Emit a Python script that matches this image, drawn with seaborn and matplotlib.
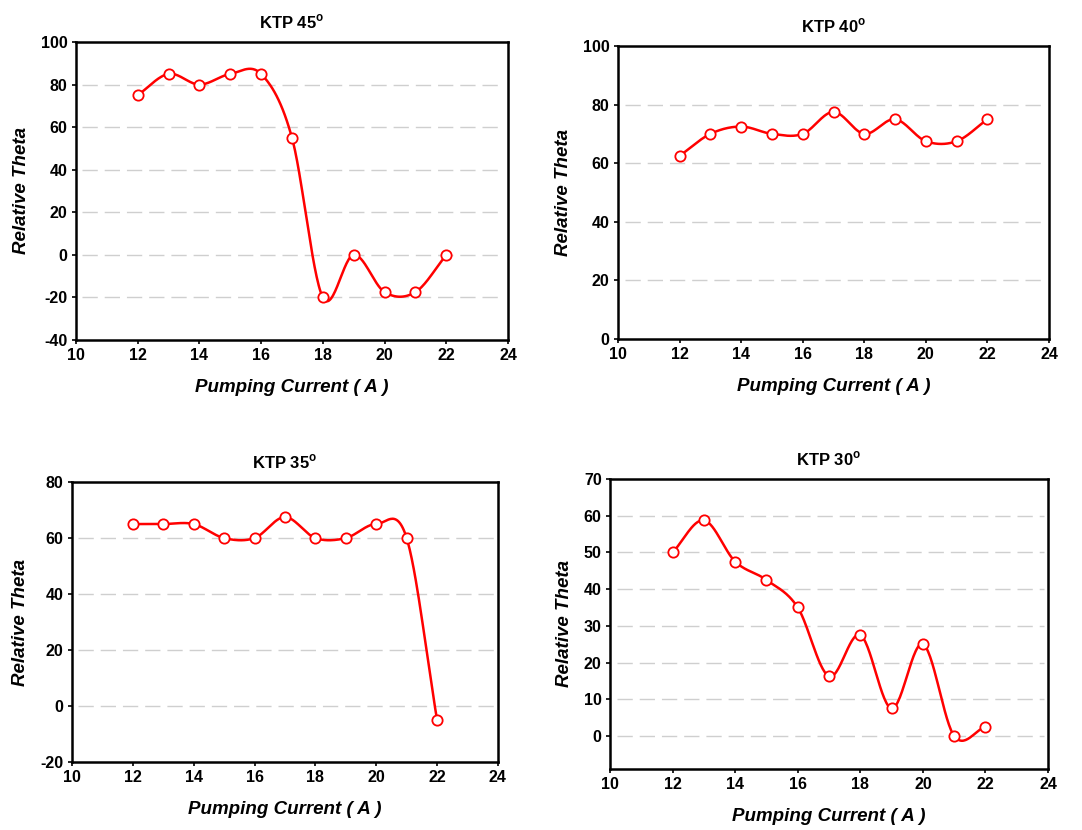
import numpy as np
import pandas as pd
import matplotlib
matplotlib.use("Agg")
import matplotlib.pyplot as plt
import seaborn as sns

# data
current = [12, 13, 14, 15, 16, 17, 18, 19, 20, 21, 22]
theta_45 = [75, 85, 80, 85, 85, 55, -20, 0, -17.5, -17.5, 0]
theta_40 = [62.5, 70, 72.5, 70, 70, 77.5, 70, 75, 67.5, 67.5, 75]
theta_35 = [65, 65, 65, 60, 60, 67.5, 60, 60, 65, 60, -5]
theta_30 = [50, 58.75, 47.5, 42.5, 35, 16.25, 27.5, 7.5, 25, 0, 2.5]

titles = ["KTP 45", "KTP 40", "KTP 35", "KTP 30"]
series = [theta_45, theta_40, theta_35, theta_30]
ylims = [(-40, 100), (0, 100), (-20, 80), (-9, 70)]
ysteps = [20, 20, 20, 10]
# axes boxes in figure fractions (left, bottom, width, height)
boxes = [(0.0702, 0.5904, 0.3993, 0.359),
         (0.5712, 0.5916, 0.3983, 0.353),
         (0.0665, 0.0819, 0.3937, 0.3373),
         (0.5638, 0.0735, 0.4048, 0.3494)]


def smooth(x, y, n=30):
    # catmull-rom curve through the points, for the smoothed line
    x = np.asarray(x, float)
    y = np.asarray(y, float)
    px = np.concatenate([[2 * x[0] - x[1]], x, [2 * x[-1] - x[-2]]])
    py = np.concatenate([[2 * y[0] - y[1]], y, [2 * y[-1] - y[-2]]])
    xs, ys = [], []
    t = np.linspace(0, 1, n, endpoint=False)
    for i in range(1, len(px) - 2):
        for p, out in ((px, xs), (py, ys)):
            p0, p1, p2, p3 = p[i - 1], p[i], p[i + 1], p[i + 2]
            out.extend(0.5 * (2 * p1 + (-p0 + p2) * t
                              + (2 * p0 - 5 * p1 + 4 * p2 - p3) * t ** 2
                              + (-p0 + 3 * p1 - 3 * p2 + p3) * t ** 3))
    xs.append(x[-1])
    ys.append(y[-1])
    return np.array(xs), np.array(ys)


sns.set_style("white")
plt.rcParams['font.family'] = ['Liberation Sans', 'DejaVu Sans']
plt.rcParams['text.color'] = 'black'
plt.rcParams['axes.labelcolor'] = 'black'
plt.rcParams['xtick.color'] = 'black'
plt.rcParams['ytick.color'] = 'black'

fig = plt.figure(figsize=(10.82, 8.3), dpi=100)

for title, vals, ylim, step, box in zip(titles, series, ylims, ysteps, boxes):
    ax = fig.add_axes(box)
    sx, sy = smooth(current, vals)
    sns.lineplot(x=sx, y=sy, ax=ax, color="#ff0000", linewidth=1.8, sort=False,
                 estimator=None, zorder=3)
    df = pd.DataFrame({"current": current, "theta": vals})
    sns.scatterplot(data=df, x="current", y="theta", ax=ax, s=55, marker="o",
                    facecolor="white", edgecolor="#ff0000", linewidth=1.3, zorder=4)
    ax.set_xlim(10, 24)
    ax.set_ylim(*ylim)
    ax.set_xticks(np.arange(10, 25, 2))
    yt = np.arange(np.ceil(ylim[0] / step) * step, ylim[1] + 0.1, step) + 0.0
    ax.set_yticks(yt)
    ax.set_yticklabels([f"{int(round(v))}" for v in yt])
    for v in yt:
        if ylim[0] < v < ylim[1]:
            ax.axhline(v, xmin=0.015, xmax=0.99, color="#cfcfcf", linewidth=1.0,
                       dashes=(11, 5), zorder=1)
    for sp in ax.spines.values():
        sp.set_color("black")
        sp.set_linewidth(1.8)
    ax.tick_params(axis="both", direction="out", length=3, width=1.2,
                   labelsize=11.5, pad=3, left=True, bottom=True)
    for lab in ax.get_xticklabels() + ax.get_yticklabels():
        lab.set_fontweight("bold")
    ax.set_xlabel("Pumping Current ( A )", fontsize=13.5, fontweight="bold",
                  fontstyle="italic", labelpad=11)
    ax.set_ylabel("Relative Theta", fontsize=13.5, fontweight="bold",
                  fontstyle="italic", labelpad=8)
    ax.set_title(title + r"$^{\mathregular{o}}$", fontsize=12, fontweight="bold", pad=10)

fig.savefig("out.png", dpi=100, facecolor="white")
